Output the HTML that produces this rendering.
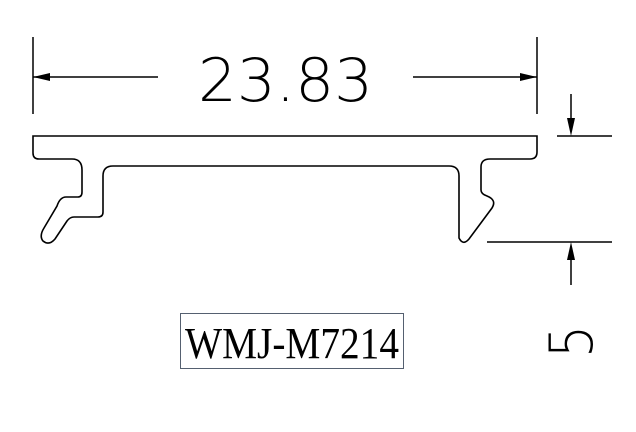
<!DOCTYPE html>
<html><head><style>html,body{margin:0;padding:0;background:#fff;}svg{display:block}</style></head>
<body>
<svg width="636" height="432" viewBox="0 0 636 432" xmlns="http://www.w3.org/2000/svg">
<g stroke="#000" stroke-width="1.5" fill="none">
<line x1="33" y1="37" x2="33" y2="114"/>
<line x1="537" y1="37" x2="537" y2="114"/>
<line x1="33" y1="77" x2="158" y2="77"/>
<line x1="413" y1="77" x2="537" y2="77"/>
<line x1="557" y1="136" x2="612" y2="136"/>
<line x1="487" y1="242" x2="612" y2="242"/>
<line x1="571" y1="94" x2="571" y2="120"/>
<line x1="571" y1="258" x2="571" y2="285"/>
<path d="M33,136 L537,136 L537,152 Q537,159 530,159 L490,159 Q481,159 481,167 L481,190 Q481,194 487,196 Q497,200 492,208 L469,239 Q463,246 459,238 L459,176 Q459,166 449,166 L113,166 Q103,166 103,176 L103,212 Q103,217 98,217 L74,217 Q70,217 67,221 L55,239 Q49,246 43,241 Q39,236 44,228 L57,206 Q60,197 66,197 L78,197 Q82,197 82,192 L82,170 Q82,159 72,159 L39,159 Q33,159 33,153 Z" stroke-width="1.6"/>
</g>
<g fill="#000">
<polygon points="33,77 50,73 50,81"/>
<polygon points="537,77 520,73 520,81"/>
<polygon points="571,136 567,118 575,118"/>
<polygon points="571,242 567,260 575,260"/>
</g>
<text x="198" y="101" font-family="DejaVu Sans, sans-serif" font-weight="200" font-size="60" textLength="175" lengthAdjust="spacingAndGlyphs" fill="#000">23.83</text>
<rect x="180.5" y="313.5" width="223" height="55" fill="none" stroke="#556070" stroke-width="1"/>
<text x="185" y="358" font-family="Liberation Serif, serif" font-size="44" textLength="214" lengthAdjust="spacingAndGlyphs" fill="#000">WMJ-M7214</text>
<text transform="translate(592,358) rotate(-90)" x="0" y="0" font-family="DejaVu Sans, sans-serif" font-weight="200" font-size="60" textLength="33" lengthAdjust="spacingAndGlyphs" fill="#000">5</text>
</svg>
</body></html>
